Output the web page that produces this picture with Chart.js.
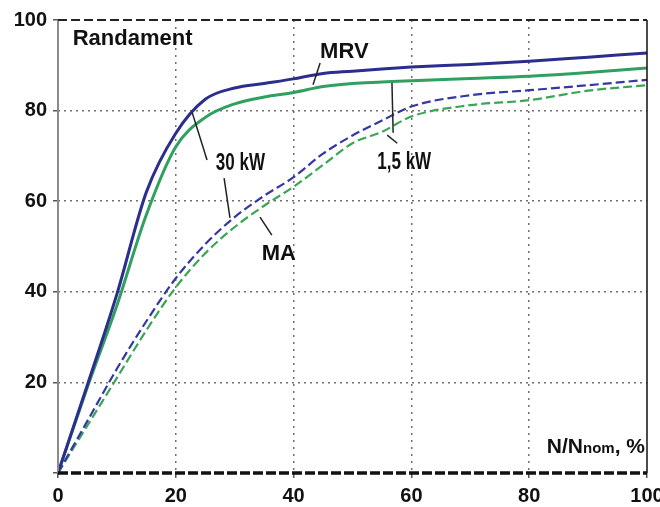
<!DOCTYPE html>
<html>
<head>
<meta charset="utf-8">
<script src="https://cdn.jsdelivr.net/npm/chart.js@4.4.1/dist/chart.umd.min.js"></script>
<style>
  html, body { margin: 0; padding: 0; background: #fff; }
</style>
</head>
<body>
<canvas id="effChart" width="660" height="507"></canvas>
<script>
// load, % of nominal
const load = [0, 5, 10, 15, 20, 25, 30, 35, 40, 45, 50, 55, 60, 70, 80, 90, 100];

// efficiency, %
const mrv30 = [0, 19.5, 39.5, 62, 75, 82.5, 85, 86, 87, 88.2, 88.7, 89.2, 89.6, 90.2, 90.9, 91.8, 92.7];
const mrv15 = [0, 19, 37, 57, 72, 78.5, 81.5, 83, 84, 85.3, 86, 86.3, 86.6, 87.1, 87.6, 88.4, 89.4];
const ma30  = [0, 11.5, 23, 33.5, 43, 50.5, 56.5, 61.2, 65.3, 70.5, 74.5, 77.8, 80.9, 83.4, 84.5, 85.6, 86.8];
const ma15  = [0, 10.5, 21, 31.5, 41, 48.5, 54.3, 59, 63.2, 68, 72.8, 75.3, 78.7, 81.2, 82.3, 84.4, 85.6];

const xTicks = [0, 20, 40, 60, 80, 100];
const yTicks = [20, 40, 60, 80, 100];

const BLUE = '#2b2e8c';
const GREEN = '#30a060';
const FONT = '"Liberation Sans", Arial, sans-serif';

// text labels and leader lines, in data units
const notes = [
  { text: 'Randament', x: 2.5, y: 94.5, size: 22, sx: 1 },
  { text: 'MRV', x: 44.5, y: 91.6, size: 22, sx: 1 },
  { text: '30 kW', x: 26.8, y: 66.9, size: 23, sx: 0.74 },
  { text: '1,5 kW', x: 54.2, y: 67.1, size: 23, sx: 0.74 },
  { text: 'MA', x: 34.6, y: 47, size: 22, sx: 1 }
];
const leaders = [
  [22.8, 79.5, 25.3, 69.1],
  [28.2, 65.1, 29.2, 56.3],
  [44.5, 90.5, 43.3, 85.7],
  [56.7, 86.1, 56.9, 75.1],
  [55.9, 74.6, 57.6, 72.8],
  [34.3, 56.5, 36.3, 52.5]
];

function pts(arr) {
  return load.map((x, i) => ({ x: x, y: arr[i] }));
}

function gridColor(c) {
  const v = c.tick ? c.tick.value : null;
  return (v === 0 || v === 100) ? 'rgba(0,0,0,0)' : '#707070';
}

const framePlugin = {
  id: 'frame',
  afterDraw(chart) {
    const { ctx, chartArea: a, scales } = chart;
    const sx = scales.x, sy = scales.y;
    ctx.save();
    // left axis
    ctx.strokeStyle = '#8a8a8a'; ctx.lineWidth = 2;
    ctx.beginPath(); ctx.moveTo(a.left, a.top); ctx.lineTo(a.left, a.bottom); ctx.stroke();
    // right
    ctx.strokeStyle = '#111'; ctx.lineWidth = 1.5;
    ctx.beginPath(); ctx.moveTo(a.right, a.top); ctx.lineTo(a.right, a.bottom); ctx.stroke();
    // top dashed
    ctx.lineWidth = 2; ctx.strokeStyle = '#222';
    ctx.setLineDash([9, 4]);
    ctx.beginPath(); ctx.moveTo(a.left, a.top); ctx.lineTo(a.right, a.top); ctx.stroke();
    // bottom dashed, heavier
    ctx.lineWidth = 3.5; ctx.strokeStyle = '#111';
    ctx.setLineDash([10, 3]);
    ctx.beginPath(); ctx.moveTo(a.left, a.bottom); ctx.lineTo(a.right, a.bottom); ctx.stroke();
    ctx.setLineDash([]);

    // leader lines
    ctx.strokeStyle = '#222'; ctx.lineWidth = 1.5;
    leaders.forEach(l => {
      ctx.beginPath();
      ctx.moveTo(sx.getPixelForValue(l[0]), sy.getPixelForValue(l[1]));
      ctx.lineTo(sx.getPixelForValue(l[2]), sy.getPixelForValue(l[3]));
      ctx.stroke();
    });

    // labels
    ctx.fillStyle = '#111';
    ctx.textBaseline = 'alphabetic';
    notes.forEach(n => {
      ctx.save();
      ctx.font = 'bold ' + n.size + 'px ' + FONT;
      ctx.translate(sx.getPixelForValue(n.x), sy.getPixelForValue(n.y));
      ctx.scale(n.sx, 1);
      ctx.textAlign = 'left';
      ctx.fillText(n.text, 0, 0);
      ctx.restore();
    });

    // axis title N/Nnom, %
    const parts = [['N/N', 21], ['nom', 15], [', %', 21]];
    let w = 0;
    parts.forEach(p => { ctx.font = 'bold ' + p[1] + 'px ' + FONT; w += ctx.measureText(p[0]).width; });
    let px = sx.getPixelForValue(100) - 2 - w;
    const py = sy.getPixelForValue(4.4);
    ctx.textAlign = 'left';
    parts.forEach(p => {
      ctx.font = 'bold ' + p[1] + 'px ' + FONT;
      ctx.fillText(p[0], px, py);
      px += ctx.measureText(p[0]).width;
    });
    ctx.restore();
  }
};

new Chart(document.getElementById('effChart'), {
  type: 'line',
  data: {
    datasets: [
      { label: 'MRV 30 kW', data: pts(mrv30), borderColor: BLUE, borderWidth: 3 },
      { label: 'MRV 1,5 kW', data: pts(mrv15), borderColor: GREEN, borderWidth: 3 },
      { label: 'MA 30 kW', data: pts(ma30), borderColor: '#3438a0', borderWidth: 2.2, borderDash: [9, 4] },
      { label: 'MA 1,5 kW', data: pts(ma15), borderColor: '#3aa655', borderWidth: 2.2, borderDash: [9, 4] }
    ]
  },
  options: {
    responsive: false,
    animation: false,
    layout: { padding: { top: 20, right: 13, left: 0, bottom: 0 } },
    elements: {
      point: { radius: 0 },
      line: { cubicInterpolationMode: 'monotone', fill: false }
    },
    plugins: {
      legend: { display: false },
      tooltip: { enabled: false }
    },
    scales: {
      x: {
        type: 'linear', min: 0, max: 100,
        afterBuildTicks: s => { s.ticks = xTicks.map(v => ({ value: v })); },
        afterFit: s => { s.height = 34; s.paddingLeft = 0; s.paddingRight = 0; },
        grid: { color: gridColor, lineWidth: 1.5, tickLength: 5, tickColor: '#555' },
        border: { display: false, dash: [2, 5] },
        ticks: { color: '#111', padding: 6, maxRotation: 0, font: { family: FONT, size: 20, weight: 'bold' } }
      },
      y: {
        min: 0, max: 100,
        afterBuildTicks: s => { s.ticks = [0].concat(yTicks).map(v => ({ value: v })); },
        afterFit: s => { s.width = 58; s.paddingTop = 0; s.paddingBottom = 0; },
        grid: { color: gridColor, lineWidth: 1.5, tickLength: 5, tickColor: '#555' },
        border: { display: false, dash: [2, 4] },
        ticks: {
          color: '#111', padding: 6,
          font: { family: FONT, size: 20, weight: 'bold' },
          callback: v => (v === 0 ? '' : v)
        }
      }
    }
  },
  plugins: [framePlugin]
});
</script>
</body>
</html>
